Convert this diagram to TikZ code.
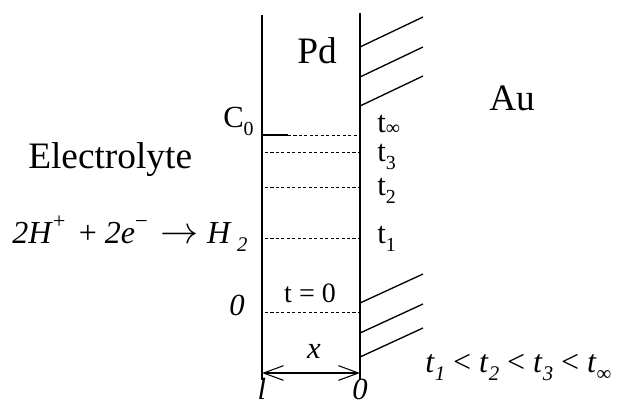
\documentclass[tikz,border=0pt]{standalone}
\usepackage{fontspec}
\setmainfont{Liberation Serif}
\usetikzlibrary{arrows.meta}
\newcommand\lsub[1]{\raisebox{-0.28em}{\scalebox{0.65}{#1}}}
\newcommand\lsup[1]{\raisebox{0.45em}{\scalebox{0.7}{#1}}}
\begin{document}
\begin{tikzpicture}[x=0.75pt,y=-0.75pt,
  wall/.style={line width=1.5pt},
  hatch/.style={line width=1.0pt},
  level/.style={dash pattern=on 2.3pt off 1.8pt, line width=0.7pt},
  lbl/.style={inner sep=0pt, anchor=base west},
  big/.style={font=\fontsize{28}{30}\selectfont},
  mid/.style={font=\fontsize{23}{25}\selectfont},
  dim/.style={line width=0.8pt, {Straight Barb[length=15pt,width=11pt]}-{Straight Barb[length=15pt,width=11pt]}}]
\useasboundingbox (0,0) rectangle (622,405);
% walls
\coordinate (lt) at (262,15); \coordinate (lb) at (262,380);
\coordinate (rt) at (360,13); \coordinate (rb) at (360,380);
\draw[wall] (lt) -- (lb);
\draw[wall] (rt) -- (rb);
% hatching (Au side)
\foreach \y in {47,77,106} \draw[hatch] (360,\y) -- (423,\y-30);
\foreach \y in {303,333,357} \draw[hatch] (360,\y) -- (423,\y-29);
% concentration levels
\draw[wall] (262,135) -- (288,135);
\draw[level] (288,135) -- (358,135);
\foreach \y in {152,187,238,312} \draw[level] (265,\y) -- (358,\y);
% labels
\node[lbl,big] (pd) at (297,63) {Pd};
\node[lbl,big] (au) at (489,110) {Au};
\node[lbl,big] (el) at (28,168) {Electrolyte};
\node[lbl,font=\fontsize{24}{26}\selectfont] (eq) at (12,243)
  {\textit{2H}\lsup{+}\, + \textit{2e}\lsup{−}\, \scalebox{1.15}{$\rightarrow$} \textit{H}\,\lsub{\textit{2}}};
\node[lbl,mid] (c0) at (223,127) {C\lsub{0}};
\node[lbl,mid] (tinf) at (377,132) {t\raisebox{-0.08em}{\scalebox{0.65}{∞}}};
\node[lbl,mid] (t3) at (377,161) {t\lsub{3}};
\node[lbl,mid] (t2) at (377,195) {t\lsub{2}};
\node[lbl,mid] (t1) at (377,243) {t\lsub{1}};
\node[inner sep=0pt,anchor=base,font=\fontsize{23}{25}\selectfont] (zl) at (237,315) {\textit{0}};
\node[inner sep=0pt,anchor=base,font=\fontsize{21}{23}\selectfont] (tz) at (310,302) {t = 0};
\node[inner sep=0pt,anchor=base,mid] (xx) at (314,358) {\textit{x}};
\coordinate (al) at (262,373); \coordinate (ar) at (360,373);
\draw[dim] (al) -- (ar);
\node[inner sep=0pt,anchor=base,mid] (ll) at (262,399) {\textit{l}};
\node[inner sep=0pt,anchor=base,mid] (lz) at (360,399) {\textit{0}};
\node[lbl,font=\fontsize{24}{26}\selectfont] (ineq) at (425,372)
  {\textit{t}\lsub{\textit{1}} < \textit{t}\lsub{\textit{2}} < \textit{t}\lsub{\textit{3}} < \textit{t}\lsub{∞}};
\end{tikzpicture}
\end{document}
